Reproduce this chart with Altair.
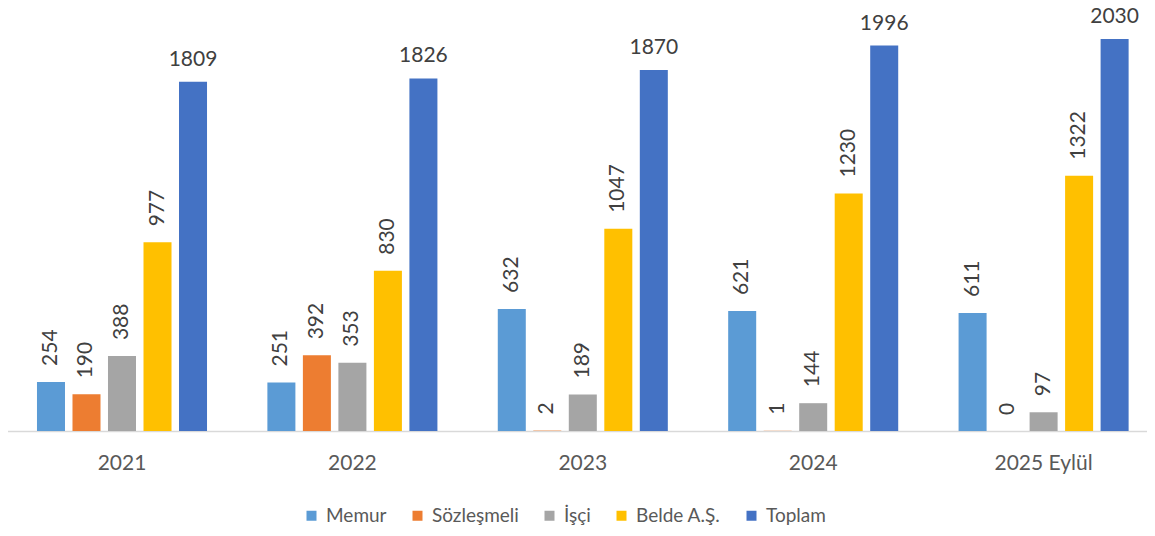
import altair as alt
import pandas as pd

years = ["2021", "2022", "2023", "2024", "2025 Eylül"]
series = ["Memur", "Sözleşmeli", "İşçi", "Belde A.Ş.", "Toplam"]
colors = ["#5B9BD5", "#ED7D31", "#A5A5A5", "#FFC000", "#4472C4"]

memur = [254, 251, 632, 621, 611]
sozlesmeli = [190, 392, 2, 1, 0]
isci = [388, 353, 189, 144, 97]
belde = [977, 830, 1047, 1230, 1322]
toplam = [1809, 1826, 1870, 1996, 2030]

rows = []
for i, yr in enumerate(years):
    for s, vals in zip(series, [memur, sozlesmeli, isci, belde, toplam]):
        rows.append({"year": yr, "series": s, "value": vals[i]})
df = pd.DataFrame(rows)

FONT = "Lato"

x = alt.X(
    "year:N", sort=years,
    scale=alt.Scale(range=[-1.2, 1150.8], paddingInner=0, paddingOuter=0),
    axis=alt.Axis(title=None, labelAngle=0, ticks=False, grid=False,
                  domainColor="#D9D9D9", domainWidth=1.3,
                  labelFont=FONT, labelFontSize=21, labelColor="#595959",
                  labelPadding=21),
)
xo = alt.XOffset("series:N", sort=series,
                 scale=alt.Scale(paddingInner=0.211, paddingOuter=0.85))
y = alt.Y("value:Q", scale=alt.Scale(domain=[0, 2170], nice=False, zero=True), axis=None)

base = alt.Chart(df).encode(x=x, xOffset=xo, y=y)

bars = base.mark_bar().encode(
    color=alt.Color(
        "series:N", sort=series,
        scale=alt.Scale(domain=series, range=colors),
        legend=alt.Legend(
            title=None, orient="none", legendX=294, legendY=494,
            direction="horizontal", symbolType="square", symbolSize=100,
            symbolStrokeWidth=0, labelFont=FONT, labelFontSize=19,
            labelColor="#595959", columnPadding=21, labelOffset=5,
        ),
    )
)

labels_rot = base.transform_filter(alt.datum.series != "Toplam").mark_text(
    angle=270, align="left", baseline="middle", dx=16,
    font=FONT, fontSize=21, color="#404040"
).encode(text="value:Q")

labels_top = base.transform_filter(alt.datum.series == "Toplam").mark_text(
    align="center", baseline="alphabetic", dy=-16,
    font=FONT, fontSize=21, color="#404040"
).encode(text="value:Q")

chart = alt.layer(bars, labels_rot, labels_top).properties(
    width=1139, height=419,
    autosize=alt.AutoSizeParams(type="none"),
    padding={"left": 0, "top": 4, "right": 0, "bottom": 97},
).configure_view(stroke=None)

chart.save("out.html", embed_options={"renderer": "svg", "actions": False})
